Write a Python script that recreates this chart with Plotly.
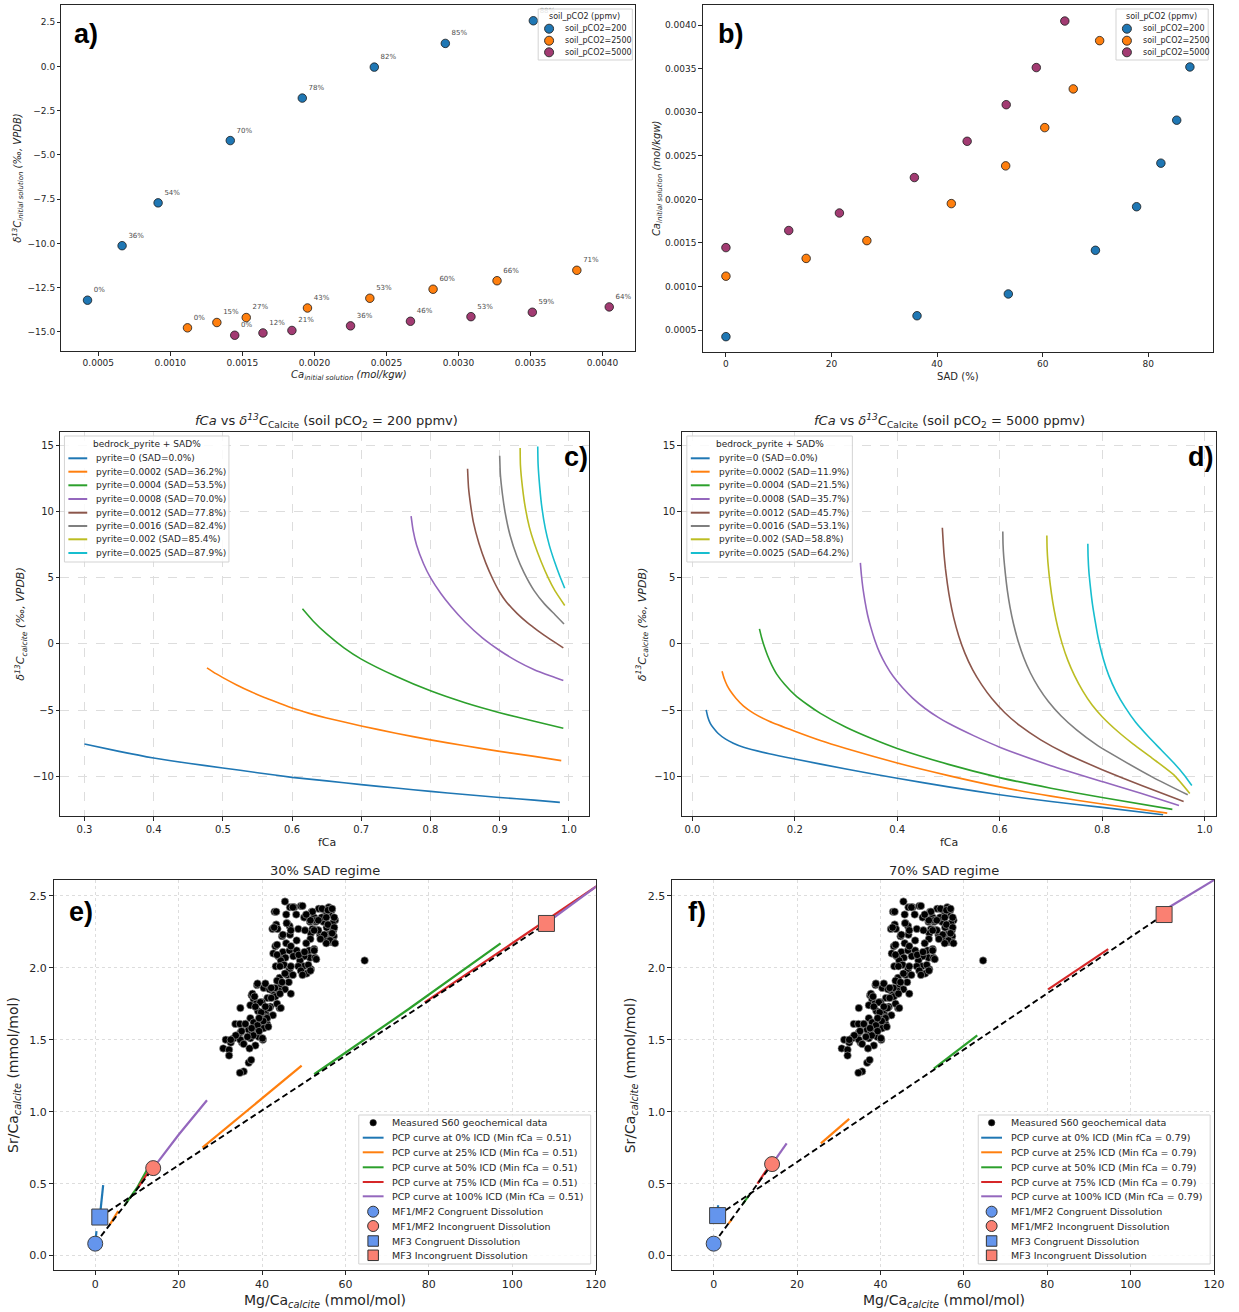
import plotly.graph_objects as go

W, H = 1239, 1312
FONT = "DejaVu Sans"
TXT = "#262626"

# ---------------- Panels a / b data ----------------
series_names = ["soil_pCO2=200", "soil_pCO2=2500", "soil_pCO2=5000"]
series_colors = ["#1f77b4", "#ff7f0e", "#a23b72"]
sad_200 = [0.0, 36.2, 53.5, 70.0, 77.8, 82.4, 85.4, 87.9]
sad_2500 = [0.0, 15.2, 26.7, 42.7, 53.0, 60.4, 65.8, 70.8]
sad_5000 = [0.0, 11.9, 21.5, 35.7, 45.7, 53.1, 58.8, 64.2]
ca_200 = [0.000425, 0.000665, 0.000915, 0.001416, 0.001916, 0.002416, 0.002909, 0.003520]
ca_2500 = [0.001119, 0.001323, 0.001527, 0.001952, 0.002385, 0.002824, 0.003268, 0.003822]
ca_5000 = [0.001447, 0.001643, 0.001844, 0.002251, 0.002667, 0.003087, 0.003513, 0.004047]
d13c_200 = [-13.21, -10.13, -7.71, -4.19, -1.79, -0.04, 1.30, 2.58]
d13c_2500 = [-14.77, -14.47, -14.19, -13.65, -13.10, -12.59, -12.11, -11.52]
d13c_5000 = [-15.19, -15.06, -14.92, -14.66, -14.40, -14.14, -13.89, -13.59]
lab_200 = ["0%", "36%", "54%", "70%", "78%", "82%", "85%", "88%"]
lab_2500 = ["0%", "15%", "27%", "43%", "53%", "60%", "66%", "71%"]
lab_5000 = ["0%", "12%", "21%", "36%", "46%", "53%", "59%", "64%"]

# ---------------- Panels c / d data ----------------
curve_colors = ["#1f77b4", "#ff7f0e", "#2ca02c", "#9467bd", "#8c564b", "#7f7f7f", "#bcbd22", "#17becf"]
pyrite_labels = ["0", "0.0002", "0.0004", "0.0008", "0.0012", "0.0016", "0.002", "0.0025"]
sad_c = ["0.0", "36.2", "53.5", "70.0", "77.8", "82.4", "85.4", "87.9"]
sad_d = ["0.0", "11.9", "21.5", "35.7", "45.7", "53.1", "58.8", "64.2"]

c_fca = [
    [0.30, 0.35, 0.40, 0.45, 0.50, 0.55, 0.60, 0.65, 0.70, 0.75, 0.80, 0.85, 0.90, 0.95, 0.987],
    [0.477, 0.49, 0.50, 0.52, 0.54, 0.56, 0.58, 0.60, 0.625, 0.65, 0.70, 0.75, 0.80, 0.85, 0.90, 0.95, 0.989],
    [0.615, 0.63, 0.65, 0.675, 0.70, 0.75, 0.80, 0.85, 0.90, 0.95, 0.992],
    [0.772, 0.775, 0.78, 0.79, 0.80, 0.815, 0.83, 0.85, 0.875, 0.90, 0.925, 0.95, 0.975, 0.992],
    [0.8536, 0.855, 0.858, 0.862, 0.87, 0.88, 0.89, 0.90, 0.91, 0.925, 0.94, 0.955, 0.97, 0.992],
    [0.900, 0.901, 0.904, 0.908, 0.915, 0.925, 0.935, 0.95, 0.965, 0.98, 0.993],
    [0.9296, 0.930, 0.933, 0.937, 0.943, 0.95, 0.96, 0.97, 0.98, 0.994],
    [0.955, 0.9555, 0.958, 0.961, 0.966, 0.972, 0.98, 0.987, 0.994],
]
c_d13c = [
    [-7.56, -8.12, -8.62, -9.02, -9.37, -9.73, -10.08, -10.35, -10.63, -10.89, -11.14, -11.38, -11.60, -11.80, -11.97],
    [-1.81, -2.25, -2.55, -3.10, -3.60, -4.05, -4.45, -4.85, -5.25, -5.60, -6.20, -6.75, -7.25, -7.70, -8.12, -8.50, -8.82],
    [2.65, 1.75, 0.75, -0.30, -1.15, -2.45, -3.55, -4.45, -5.20, -5.85, -6.38],
    [9.65, 8.55, 7.45, 6.05, 5.0, 3.8, 2.8, 1.65, 0.45, -0.50, -1.30, -1.95, -2.45, -2.77],
    [13.23, 11.8, 10.5, 9.2, 7.6, 6.1, 4.9, 3.9, 3.15, 2.3, 1.6, 1.0, 0.45, -0.3],
    [14.2, 12.8, 11.3, 9.9, 8.2, 6.6, 5.4, 4.0, 3.0, 2.2, 1.5],
    [14.8, 13.5, 11.8, 10.3, 8.8, 7.6, 6.2, 5.0, 4.0, 2.9],
    [14.9, 13.6, 11.8, 10.3, 8.7, 7.4, 6.1, 5.1, 4.2],
]
d_fca = [
    [0.027, 0.030, 0.035, 0.042, 0.05, 0.065, 0.08, 0.10, 0.15, 0.20, 0.30, 0.40, 0.50, 0.60, 0.70, 0.80, 0.919],
    [0.058, 0.062, 0.068, 0.075, 0.085, 0.10, 0.12, 0.15, 0.20, 0.25, 0.30, 0.40, 0.50, 0.60, 0.70, 0.80, 0.927],
    [0.131, 0.135, 0.14, 0.147, 0.155, 0.165, 0.18, 0.20, 0.225, 0.25, 0.30, 0.35, 0.40, 0.50, 0.60, 0.70, 0.80, 0.937],
    [0.328, 0.330, 0.333, 0.337, 0.342, 0.348, 0.356, 0.366, 0.378, 0.392, 0.41, 0.43, 0.455, 0.48, 0.50, 0.55, 0.60, 0.70, 0.80, 0.877, 0.95],
    [0.488, 0.4895, 0.491, 0.494, 0.498, 0.503, 0.51, 0.52, 0.532, 0.547, 0.565, 0.585, 0.61, 0.64, 0.68, 0.73, 0.80, 0.877, 0.959],
    [0.606, 0.6065, 0.608, 0.611, 0.615, 0.62, 0.627, 0.636, 0.647, 0.66, 0.676, 0.695, 0.72, 0.75, 0.79, 0.84, 0.90, 0.967],
    [0.692, 0.6925, 0.694, 0.697, 0.701, 0.706, 0.713, 0.722, 0.733, 0.746, 0.762, 0.78, 0.80, 0.83, 0.86, 0.90, 0.94, 0.971],
    [0.772, 0.7725, 0.774, 0.777, 0.781, 0.786, 0.793, 0.802, 0.813, 0.827, 0.845, 0.865, 0.89, 0.915, 0.94, 0.96, 0.975],
]
d_d13c = [
    [-4.99, -5.5, -6.0, -6.4, -6.75, -7.2, -7.5, -7.81, -8.3, -8.7, -9.45, -10.15, -10.8, -11.4, -11.9, -12.35, -12.9],
    [-2.07, -2.6, -3.15, -3.6, -4.1, -4.7, -5.25, -5.85, -6.6, -7.3, -7.9, -9.0, -9.95, -10.8, -11.5, -12.1, -12.78],
    [1.13, 0.5, -0.15, -0.9, -1.6, -2.3, -3.05, -3.85, -4.6, -5.25, -6.3, -7.15, -7.9, -9.1, -10.1, -10.9, -11.6, -12.5],
    [6.12, 5.2, 4.2, 3.2, 2.2, 1.3, 0.3, -0.7, -1.6, -2.45, -3.3, -4.1, -4.9, -5.55, -6.0, -6.95, -7.8, -9.2, -10.4, -11.3, -12.2],
    [8.77, 7.8, 6.9, 5.7, 4.5, 3.3, 2.0, 0.6, -0.7, -1.95, -3.1, -4.15, -5.2, -6.2, -7.25, -8.3, -9.5, -10.7, -11.9],
    [8.49, 7.5, 6.5, 5.3, 4.0, 2.8, 1.5, 0.2, -1.05, -2.2, -3.3, -4.35, -5.45, -6.5, -7.65, -8.8, -10.1, -11.4],
    [8.19, 7.2, 6.2, 5.0, 3.8, 2.6, 1.3, 0.0, -1.25, -2.4, -3.55, -4.6, -5.5, -6.6, -7.55, -8.7, -9.9, -11.3],
    [7.56, 6.6, 5.5, 4.3, 3.0, 1.8, 0.3, -1.1, -2.4, -3.6, -4.8, -5.9, -7.0, -8.0, -9.0, -9.9, -10.7],
]

# ---------------- Panels e / f data ----------------
s60_points = [
    (45.5, 2.46), (46.7, 2.42), (47.7, 2.42), (49.3, 2.43), (43.0, 2.39), (45.8, 2.37), (48.2, 2.37), (43.4, 2.30),
    (42.5, 2.27), (43.7, 2.27), (46.0, 2.31), (46.6, 2.29), (48.7, 2.27), (50.1, 2.35), (51.9, 2.39), (52.5, 2.35),
    (51.5, 2.32), (52.9, 2.32), (53.6, 2.41), (55.1, 2.40), (56.0, 2.42), (56.7, 2.40), (56.1, 2.37), (55.3, 2.36),
    (57.5, 2.33), (56.9, 2.31), (54.7, 2.32), (55.5, 2.28), (57.1, 2.26), (55.9, 2.23), (57.2, 2.22), (55.1, 2.22),
    (53.9, 2.23), (52.1, 2.27), (51.7, 2.24), (50.3, 2.26), (53.3, 2.26), (56.3, 2.18), (55.1, 2.20), (57.1, 2.18),
    (52.9, 2.33), (54.3, 2.35), (44.8, 2.22), (46.7, 2.23), (48.3, 2.19), (45.8, 2.17), (43.2, 2.15), (42.7, 2.10),
    (43.9, 2.08), (45.0, 2.11), (46.6, 2.12), (48.3, 2.12), (51.3, 2.12), (52.5, 2.13), (51.5, 2.07), (52.7, 2.07),
    (50.1, 2.08), (49.1, 2.05), (47.5, 2.08), (45.6, 2.07), (44.5, 2.05), (43.3, 2.01), (45.3, 2.02), (46.6, 1.99),
    (49.9, 2.01), (51.7, 1.99), (50.7, 1.96), (48.7, 2.01), (44.2, 1.93), (46.0, 1.95), (44.4, 1.88), (45.5, 1.85),
    (46.9, 1.82), (43.6, 1.91), (42.6, 1.84), (44.0, 1.84), (64.6, 2.05),
    (38.8, 1.88), (40.4, 1.86), (41.8, 1.85), (37.5, 1.81), (38.0, 1.78), (43.2, 1.80), (41.3, 1.79), (40.0, 1.76),
    (38.6, 1.75), (37.2, 1.74), (34.8, 1.72), (39.0, 1.70), (40.8, 1.69), (42.0, 1.73), (44.2, 1.72), (39.6, 1.66),
    (41.4, 1.66), (37.2, 1.65), (36.0, 1.61), (38.0, 1.62), (39.4, 1.61), (41.2, 1.61), (33.6, 1.61), (34.7, 1.61),
    (36.8, 1.57), (37.6, 1.54), (38.8, 1.58), (40.4, 1.58), (34.8, 1.55), (33.2, 1.51), (35.2, 1.48), (37.2, 1.51),
    (39.2, 1.52), (40.2, 1.50), (31.3, 1.50), (32.5, 1.48), (30.7, 1.44), (32.1, 1.43), (32.1, 1.39), (36.8, 1.34),
    (37.4, 1.36), (35.6, 1.28), (34.7, 1.27),
    (43.4, 2.39), (45.9, 2.31), (47.4, 2.42), (49.7, 2.43), (42.9, 2.28), (45.0, 2.23), (46.9, 2.26), (43.6, 2.16),
    (46.9, 2.15), (48.8, 2.09), (50.2, 2.11), (51.1, 2.02), (52.5, 2.12), (53.0, 2.06), (51.6, 1.98), (43.6, 2.09),
    (44.3, 2.01), (45.5, 1.96), (46.9, 2.01), (47.4, 1.95), (46.4, 1.90), (49.3, 1.98), (49.7, 1.95), (44.8, 1.90),
    (43.1, 1.86), (44.3, 1.82), (42.2, 1.79), (43.6, 1.75), (44.5, 1.72), (41.7, 1.72), (42.6, 1.67), (41.2, 1.65),
    (39.8, 1.69), (40.3, 1.63), (38.9, 1.60), (39.3, 1.56), (37.9, 1.53), (40.1, 1.51), (37.5, 1.58), (36.0, 1.61),
    (36.5, 1.52), (35.1, 1.56), (34.8, 1.50), (33.7, 1.53), (32.5, 1.50), (38.4, 1.46), (35.6, 1.47), (37.0, 1.44),
    (38.9, 1.89), (40.8, 1.89), (42.2, 1.86), (37.7, 1.82), (38.2, 1.80), (39.6, 1.76), (40.8, 1.73), (38.4, 1.73),
    (39.3, 1.65), (41.5, 1.59), (54.4, 2.41), (55.8, 2.40), (56.8, 2.41), (57.3, 2.35), (55.4, 2.35), (53.5, 2.33),
    (51.6, 2.33), (52.1, 2.39), (50.6, 2.37), (55.8, 2.30), (57.3, 2.28), (56.8, 2.24), (54.9, 2.23), (56.3, 2.19),
    (55.4, 2.17), (57.5, 2.17), (53.5, 2.26), (54.0, 2.20), (52.5, 2.26), (51.6, 2.20), (50.6, 2.17),
]
s60_mg_ca = [p[0] for p in s60_points]
s60_sr_ca = [p[1] for p in s60_points]

icd_levels = ["0%", "25%", "50%", "75%", "100%"]
pcp_colors = ["#1f77b4", "#ff7f0e", "#2ca02c", "#d62728", "#9467bd"]

# PCP curves (e: min fCa 0.51)
e_mf3_x = [[1.1, 1.5, 1.9], [25.7, 37.0, 49.5], [52.5, 75.0, 97.2], [79.0, 100.0, 125.0], [108.2, 125.0]]
e_mf3_y = [[0.268, 0.38, 0.49], [0.75, 1.02, 1.32], [1.26, 1.71, 2.17], [1.76, 2.17, 2.66], [2.31, 2.67]]
e_mf12_x = [[0.0, 0.3], [3.5, 5.5], [7.0, 10.0, 12.7], [10.4, 12.0, 13.6], [13.9, 20.0, 26.8]]
e_mf12_y = [[0.083, 0.17], [0.215, 0.31], [0.347, 0.47, 0.61], [0.477, 0.55, 0.62], [0.608, 0.84, 1.08]]
# PCP curves (f: min fCa 0.79)
f_mf3_x = [[0.94, 1.05], [25.7, 32.5], [52.8, 63.2], [80.2, 94.6], [108.0, 120.0]]
f_mf3_y = [[0.278, 0.35], [0.78, 0.95], [1.30, 1.53], [1.85, 2.13], [2.40, 2.61]]
f_mf12_x = [[0.0, 0.1], [3.5, 4.3], [7.0, 8.5], [10.5, 12.8], [14.0, 17.5]]
f_mf12_y = [[0.083, 0.10], [0.22, 0.25], [0.36, 0.42], [0.50, 0.60], [0.636, 0.78]]

# end members: (Mg/Ca, Sr/Ca)
e_mf12_cong = (0.0, 0.083)
e_mf12_incong = (13.9, 0.608)
e_mf3_cong = (1.1, 0.268)
e_mf3_incong = (108.2, 2.308)
f_mf12_cong = (0.0, 0.083)
f_mf12_incong = (14.0, 0.636)
f_mf3_cong = (0.94, 0.278)
f_mf3_incong = (108.0, 2.37)
em_names = ["MF1/MF2 Congruent Dissolution", "MF1/MF2 Incongruent Dissolution",
            "MF3 Congruent Dissolution", "MF3 Incongruent Dissolution"]
em_colors = ["#6495ED", "#FA8072", "#6495ED", "#FA8072"]
em_symbols = ["circle", "circle", "square", "square"]


def px(x):
    return x / W


def py(y):
    return 1 - y / H


def axis(dom, rng, dtick, fmt, fs, anchor, is_y=False, grid=None):
    d = dict(
        domain=[py(dom[1]), py(dom[0])] if is_y else [px(dom[0]), px(dom[1])],
        range=rng, dtick=dtick, tick0=0, tickformat=fmt,
        tickfont=dict(size=fs, color=TXT, family=FONT),
        showline=True, mirror=True, linecolor=TXT, linewidth=1,
        ticks="outside", ticklen=3.5, tickwidth=1, tickcolor=TXT,
        zeroline=False, anchor=anchor, showgrid=grid is not None, fixedrange=True,
    )
    if grid:
        d.update(gridcolor="#dddddd", griddash=grid, gridwidth=0.8)
    return d


fig = go.Figure()

# ---------------- panel a ----------------
a_series = [(ca_200, d13c_200, lab_200), (ca_2500, d13c_2500, lab_2500), (ca_5000, d13c_5000, lab_5000)]
for (xs, ys, labs), name, col in zip(a_series, series_names, series_colors):
    fig.add_trace(go.Scatter(
        x=xs, y=ys, mode="markers",
        marker=dict(size=8.5, color=col, line=dict(color="#1a1a1a", width=0.8)),
        name=name, showlegend=False, xaxis="x", yaxis="y", cliponaxis=False))
for (xs, ys, labs) in a_series:
    fig.add_trace(go.Scatter(
        x=xs, y=ys, mode="markers+text", text=labs, textposition="top right",
        textfont=dict(size=7, color="#4d4d4d", family=FONT),
        marker=dict(size=8.5, color="rgba(0,0,0,0)"),
        showlegend=False, hoverinfo="skip", xaxis="x", yaxis="y", cliponaxis=False))

# ---------------- panel b ----------------
b_series = [(sad_200, ca_200), (sad_2500, ca_2500), (sad_5000, ca_5000)]
for (xs, ys), name, col in zip(b_series, series_names, series_colors):
    fig.add_trace(go.Scatter(
        x=xs, y=ys, mode="markers",
        marker=dict(size=8.5, color=col, line=dict(color="#1a1a1a", width=0.8)),
        name=name, showlegend=False, xaxis="x2", yaxis="y2"))

# ---------------- panels c / d ----------------
for fx, fy, xa, ya in [(c_fca, c_d13c, "x3", "y3"), (d_fca, d_d13c, "x4", "y4")]:
    for xs, ys, col in zip(fx, fy, curve_colors):
        fig.add_trace(go.Scatter(
            x=xs, y=ys, mode="lines", line=dict(color=col, width=1.6, shape="spline", smoothing=0.5),
            showlegend=False, xaxis=xa, yaxis=ya))

# ---------------- panels e / f ----------------
panels_ef = [
    ("x5", "y5", e_mf3_x, e_mf3_y, e_mf12_x, e_mf12_y, [e_mf12_cong, e_mf12_incong, e_mf3_cong, e_mf3_incong]),
    ("x6", "y6", f_mf3_x, f_mf3_y, f_mf12_x, f_mf12_y, [f_mf12_cong, f_mf12_incong, f_mf3_cong, f_mf3_incong]),
]
for xa, ya, m3x, m3y, m12x, m12y, ems in panels_ef:
    fig.add_trace(go.Scatter(
        x=s60_mg_ca, y=s60_sr_ca, mode="markers",
        marker=dict(size=7.5, color="black", line=dict(color="#a8a8a8", width=0.6)),
        showlegend=False, xaxis=xa, yaxis=ya))
    for xs, ys, col in zip(m12x + m3x, m12y + m3y, pcp_colors + pcp_colors):
        fig.add_trace(go.Scatter(x=xs, y=ys, mode="lines", line=dict(color=col, width=2.2),
                                 showlegend=False, xaxis=xa, yaxis=ya))
    # mixing lines (congruent -> incongruent)
    for a_i, b_i in [(0, 1), (2, 3)]:
        fig.add_trace(go.Scatter(
            x=[ems[a_i][0], ems[b_i][0]], y=[ems[a_i][1], ems[b_i][1]], mode="lines",
            line=dict(color="black", width=1.9, dash="6px,3.5px"),
            showlegend=False, xaxis=xa, yaxis=ya))
    for (mx, my), col, sym in zip(ems, em_colors, em_symbols):
        fig.add_trace(go.Scatter(
            x=[mx], y=[my], mode="markers",
            marker=dict(size=15 if sym == "circle" else 16, symbol=sym, color=col,
                        line=dict(color="#404040", width=1)),
            showlegend=False, xaxis=xa, yaxis=ya, cliponaxis=False))

# ---------------- layout / axes ----------------
layout = dict(
    width=W, height=H, margin=dict(l=0, r=0, t=0, b=0),
    paper_bgcolor="white", plot_bgcolor="white", showlegend=False,
    font=dict(family=FONT, color=TXT),
    xaxis=axis([62, 641], [0.000244, 0.004228], 0.0005, ".4f", 9, "y"),
    yaxis=axis([5, 351], [-16.08, 3.47], 2.5, ".1f", 9, "x", is_y=True),
    xaxis2=axis([709, 1224], [-4.4, 92.3], 20, "d", 9, "y2"),
    yaxis2=axis([5, 352], [0.000249, 0.004231], 0.0005, ".4f", 9, "x2", is_y=True),
    xaxis3=axis([61, 594], [0.2653, 1.0287], 0.1, ".1f", 10, "y3", grid="dash"),
    yaxis3=axis([432, 816], [-13, 16], 5, "d", 10, "x3", is_y=True, grid="dash"),
    xaxis4=axis([688, 1227], [-0.0204, 1.0224], 0.2, ".1f", 10, "y4", grid="dash"),
    yaxis4=axis([432, 816], [-13, 16], 5, "d", 10, "x4", is_y=True, grid="dash"),
    xaxis5=axis([54, 601], [-10, 120], 20, "d", 11, "y5", grid="dot"),
    yaxis5=axis([880, 1270], [-0.1, 2.61], 0.5, ".1f", 11, "x5", is_y=True, grid="dot"),
    xaxis6=axis([678, 1225], [-10, 120], 20, "d", 11, "y6", grid="dot"),
    yaxis6=axis([880, 1270], [-0.1, 2.61], 0.5, ".1f", 11, "x6", is_y=True, grid="dot"),
)

annots = []
shapes = []


def note(text, x, y, size, angle=0, xanchor="center", bold=False, family=FONT, color=TXT):
    annots.append(dict(text=f"<b>{text}</b>" if bold else text, x=px(x), y=py(y),
                       xref="paper", yref="paper", showarrow=False, textangle=angle,
                       xanchor=xanchor, yanchor="middle",
                       font=dict(size=size, family=family, color=color)))


# axis titles
note("<i>δ<sup>13</sup>C<sub>initial solution</sub> (‰, VPDB)</i>", 18, 178, 10, angle=-90)
note("<i>Ca<sub>initial solution</sub> (mol/kgw)</i>", 352, 375, 10)
note("<i>Ca<sub>initial solution</sub> (mol/kgw)</i>", 663, 178, 10, angle=-90)
note("SAD (%)", 967, 376, 10)
note("<i>δ<sup>13</sup>C<sub>calcite</sub> (‰, VPDB)</i>", 21, 624, 11, angle=-90)
note("fCa", 330, 842, 11)
note("<i>δ<sup>13</sup>C<sub>calcite</sub> (‰, VPDB)</i>", 648, 624, 11, angle=-90)
note("fCa", 958, 842, 11)
note("<i>fCa</i> vs <i>δ<sup>13</sup>C</i><sub>Calcite</sub> (soil pCO<sub>2</sub> = 200 ppmv)", 329, 421, 13)
note("<i>fCa</i> vs <i>δ<sup>13</sup>C</i><sub>Calcite</sub> (soil pCO<sub>2</sub> = 5000 ppmv)", 958, 421, 13)
note("30% SAD regime", 328, 870, 13)
note("70% SAD regime", 952, 870, 13)
note("Sr/Ca<sub><i>calcite</i></sub> (mmol/mol)", 14, 1075, 14, angle=-90)
note("Mg/Ca<sub><i>calcite</i></sub> (mmol/mol)", 328, 1301, 14)
note("Sr/Ca<sub><i>calcite</i></sub> (mmol/mol)", 637, 1075, 14, angle=-90)
note("Mg/Ca<sub><i>calcite</i></sub> (mmol/mol)", 952, 1301, 14)

# panel letters
for lab, x, y in [("a)", 87, 34), ("b)", 737, 34), ("c)", 581, 457), ("d)", 1211, 457), ("e)", 82, 912), ("f)", 703, 912)]:
    note(lab, x, y, 27, bold=True, family="Liberation Sans", color="black")


def legend(box, title, title_y, title_x, rows_y, sym_x, text_x, entries, fs):
    shapes.append(dict(type="rect", xref="paper", yref="paper", layer="above",
                       x0=px(box[0]), x1=px(box[2]), y0=py(box[3]), y1=py(box[1]),
                       line=dict(color="#d3d3d3", width=1), fillcolor="rgba(255,255,255,0.85)"))
    if title:
        note(title, title_x, title_y, fs)
    for (kind, col, label, sz), ry in zip(entries, rows_y):
        cx = (sym_x[0] + sym_x[1]) / 2
        if kind == "line":
            shapes.append(dict(type="line", xref="paper", yref="paper", layer="above",
                               x0=px(sym_x[0]), x1=px(sym_x[1]), y0=py(ry), y1=py(ry),
                               line=dict(color=col, width=2)))
        else:
            r = sz / 2
            shapes.append(dict(type="circle" if kind == "circle" else "rect", layer="above",
                               xref="paper", yref="paper", xsizemode="pixel", ysizemode="pixel",
                               xanchor=px(cx), yanchor=py(ry), x0=-r, x1=r, y0=-r, y1=r,
                               fillcolor=col, line=dict(color="#333333", width=1 if sz > 7 else 0.6)))
        note(label, text_x, ry, fs, xanchor="left")


ab_entries = [("circle", c, n, 9) for c, n in zip(series_colors, series_names)]
legend([543, 9, 638, 60], "soil_pCO2 (ppmv)", 16, 590, [28.7, 40.7, 52.3], [549, 559], 568, ab_entries, 8)
legend([1126, 9, 1219, 60], "soil_pCO2 (ppmv)", 16, 1172, [28.7, 40.7, 52.3], [1132, 1142], 1151, ab_entries, 8)

cd_rows = [458.3, 471.7, 485.3, 499.0, 512.7, 526.0, 539.3, 553.0]
c_entries = [("line", c, f"pyrite={p} (SAD={s}%)", 0) for c, p, s in zip(curve_colors, pyrite_labels, sad_c)]
d_entries = [("line", c, f"pyrite={p} (SAD={s}%)", 0) for c, p, s in zip(curve_colors, pyrite_labels, sad_d)]
legend([65, 436, 231, 562], "bedrock_pyrite + SAD%", 444, 148, cd_rows, [69, 88], 95, c_entries, 9)
legend([693, 436, 860, 562], "bedrock_pyrite + SAD%", 444, 777, cd_rows, [697, 716], 723, d_entries, 9)

ef_rows = [1122.7, 1137.7, 1152.3, 1167.3, 1182.0, 1196.3, 1211.7, 1226.0, 1241.0, 1255.3]
for box, sx, tx, fmin in [([362, 1115, 596, 1264], [366, 387], 393, "0.51"),
                          ([987, 1115, 1221, 1264], [990, 1011], 1018, "0.79")]:
    ents = [("circle", "black", "Measured S60 geochemical data", 6.5)]
    ents += [("line", c, f"PCP curve at {lv} ICD (Min fCa = {fmin})", 0) for c, lv in zip(pcp_colors, icd_levels)]
    ents += [(s if s == "circle" else "square", c, n, 11 if s == "circle" else 10.5)
             for s, c, n in zip(em_symbols, em_colors, em_names)]
    legend(box, None, 0, 0, ef_rows, sx, tx, ents, 9.5)

layout["annotations"] = annots
layout["shapes"] = shapes
fig.update_layout(**layout)
fig.write_html("out.html")
